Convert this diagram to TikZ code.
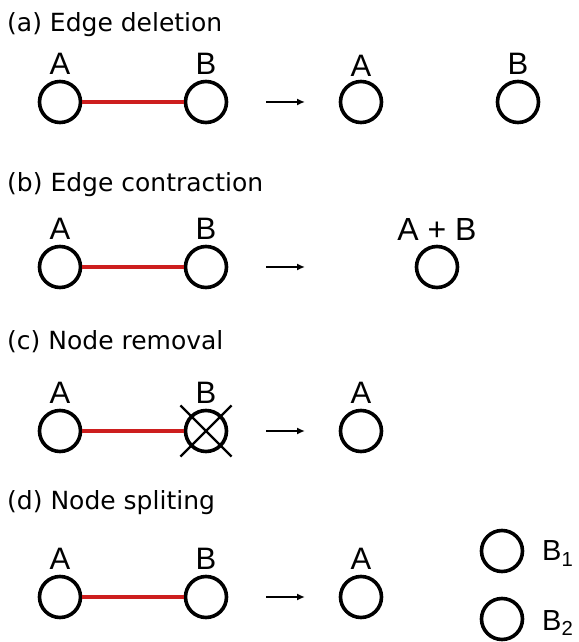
\documentclass[tikz,border=0pt]{standalone}
\usepackage{fontspec}
\setmainfont{DejaVu Sans}
\newfontfamily\lblfont{Liberation Sans}
\usepackage{tikz}
\usetikzlibrary{positioning}
\usetikzlibrary{shapes.misc,arrows.meta}
\definecolor{edgered}{RGB}{205,30,30}

\begin{document}
\begin{tikzpicture}[x=1pt,y=1pt,
  vtx/.style={circle,draw,line width=3.6pt,minimum size=41pt,inner sep=0pt},
  lbl/.style={font=\lblfont\fontsize{31}{31}\selectfont,inner sep=0pt},
  ttl/.style={font=\fontsize{25}{28}\selectfont,anchor=base west,inner sep=0pt},
  edg/.style={edgered,line width=3.4pt},
  arr/.style={-{Latex[length=8pt,width=7pt]},line width=1.6pt}]
\useasboundingbox (0,0) rectangle (578,642);
% (a) Edge deletion
\node[ttl] (ta) at (7,610) {(a) Edge deletion};
\node[vtx] (Aa) at (60,540) {};
\node[vtx] (Ba) at (206,540) {};
\node[lbl, above=5pt of Aa] (lAa) {A};
\node[lbl, above=5pt of Ba] (lBa) {B};
\draw[edg] (Aa) -- (Ba);
\coordinate (sa) at (266,540);
\coordinate (ea) at (305,540);
\draw[arr] (sa) -- (ea);
\node[vtx] (Aa2) at (361,540) {};
\node[vtx] (Ba2) at (518,540) {};
\node[lbl, above=3pt of Aa2] (lAa2) {A};
\node[lbl, above=5pt of Ba2] (lBa2) {B};
% (b) Edge contraction
\node[ttl] (tb) at (7,450) {(b) Edge contraction};
\node[vtx] (Ab) at (60,375) {};
\node[vtx] (Bb) at (206,375) {};
\node[lbl, above=5pt of Ab] (lAb) {A};
\node[lbl, above=5pt of Bb] (lBb) {B};
\draw[edg] (Ab) -- (Bb);
\coordinate (sb) at (266,375);
\coordinate (eb) at (305,375);
\draw[arr] (sb) -- (eb);
\node[vtx] (ABb) at (437,375) {};
\node[lbl, font=\lblfont\fontsize{32}{32}\selectfont, above=4pt of ABb] (lABb) {A + B};
% (c) Node removal
\node[ttl] (tc) at (7,292) {(c) Node removal};
\node[vtx] (Ac) at (60,211) {};
\node[vtx] (Bc) at (206,211) {};
\node[lbl, above=5pt of Ac] (lAc) {A};
\node[lbl, above=5pt of Bc] (lBc) {B};
\draw[edg] (Ac) -- (Bc);
\node[draw, cross out, line width=2.2pt, minimum size=49pt, inner sep=0pt] (xBc) at (Bc) {};
\coordinate (sc) at (266,211);
\coordinate (ec) at (305,211);
\draw[arr] (sc) -- (ec);
\node[vtx] (Ac2) at (361,211) {};
\node[lbl, above=5pt of Ac2] (lAc2) {A};
% (d) Node spliting
\node[ttl] (td) at (7,132) {(d) Node spliting};
\node[vtx] (Ad) at (60,45) {};
\node[vtx] (Bd) at (206,45) {};
\node[lbl, above=5pt of Ad] (lAd) {A};
\node[lbl, above=5pt of Bd] (lBd) {B};
\draw[edg] (Ad) -- (Bd);
\coordinate (sd) at (266,45);
\coordinate (ed) at (305,45);
\draw[arr] (sd) -- (ed);
\node[vtx] (Ad2) at (361,45) {};
\node[lbl, above=5pt of Ad2] (lAd2) {A};
\node[vtx] (B1) at (502,91) {};
\node[vtx] (B2) at (502,23) {};
\node[lbl, font=\lblfont\fontsize{29}{29}\selectfont, anchor=base west] (lB1) at (542,81) {B\textsubscript{1}};
\node[lbl, font=\lblfont\fontsize{29}{29}\selectfont, anchor=base west] (lB2) at (542,12) {B\textsubscript{2}};
\end{tikzpicture}
\end{document}
